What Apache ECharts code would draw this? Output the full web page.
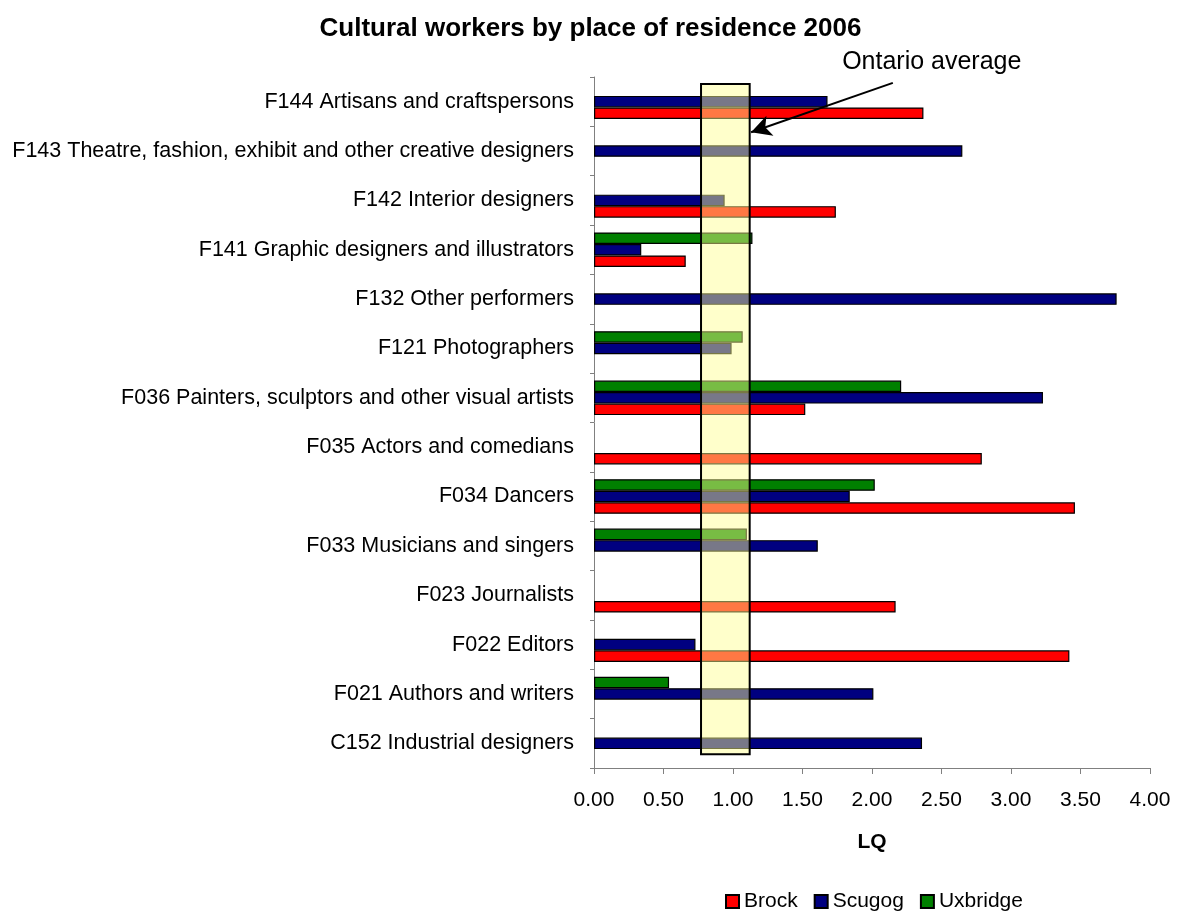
<!DOCTYPE html>
<html>
<head>
<meta charset="utf-8">
<title>Cultural workers by place of residence 2006</title>
<script src="https://cdn.jsdelivr.net/npm/echarts@6/dist/echarts.min.js"></script>
<style>
  html, body { margin: 0; padding: 0; background: #fff; }
  #chart { width: 1181px; height: 913px; }
</style>
</head>
<body>
<div id="chart"></div>
<script>
// categories listed bottom -> top, the way the category axis draws them
const occupations = [
  'C152 Industrial designers',
  'F021 Authors and writers',
  'F022 Editors',
  'F023 Journalists',
  'F033 Musicians and singers',
  'F034 Dancers',
  'F035 Actors and comedians',
  'F036 Painters, sculptors and other visual artists',
  'F121 Photographers',
  'F132 Other performers',
  'F141 Graphic designers and illustrators',
  'F142 Interior designers',
  'F143 Theatre, fashion, exhibit and other creative designers',
  'F144 Artisans and craftspersons'
]
const brock    = [null, null, 3.42, 2.17, null, 3.46, 2.79, 1.52, null, null, 0.66, 1.74, null, 2.37]
const scugog   = [2.36, 2.01, 0.73, null, 1.61, 1.84, null, 3.23, 0.99, 3.76, 0.34, 0.94, 2.65, 1.68]
const uxbridge = [null, 0.54, null, null, 1.10, 2.02, null, 2.21, 1.07, null, 1.14, null, null, null]

// LQ axis ticks
const lqTicks = [0, 0.5, 1, 1.5, 2, 2.5, 3, 3.5, 4]

// Ontario average band (LQ) and its extent in category units (0 = bottom, 14 = top)
const ontarioBand = [0.77, 1.12]
const bandRows = [0.28, 13.86]
// arrow from label to band, [LQ, row]
const arrowFrom = [2.15, 13.88]
const arrowTo = [1.13, 12.88]
const labelAt = [2.43, 14.3]

const FONT = "'Liberation Sans', Arial, sans-serif"
const chart = echarts.init(document.getElementById('chart'))

const barStyle = (color) => ({ color: color, borderColor: '#000', borderWidth: 1.2 })

// in a horizontal group the first series sits on top, so Uxbridge goes first
chart.setOption({
  backgroundColor: '#fff',
  animation: false,
  textStyle: { fontFamily: FONT },
  title: {
    text: 'Cultural workers by place of residence 2006',
    left: 'center',
    top: 11,
    textStyle: { fontSize: 26, fontWeight: 'bold', color: '#000', fontFamily: FONT }
  },
  legend: {
    data: ['Brock', 'Scugog', 'Uxbridge'],
    left: 720,
    top: 886,
    icon: 'rect',
    itemWidth: 13,
    itemHeight: 13,
    itemGap: 16,
    textStyle: { fontSize: 21, color: '#000', fontFamily: FONT }
  },
  grid: { left: 594, right: 31, top: 77, bottom: 145, outerBoundsMode: 'none' },
  xAxis: {
    type: 'value',
    min: lqTicks[0],
    max: lqTicks[lqTicks.length - 1],
    interval: lqTicks[1] - lqTicks[0],
    name: 'LQ',
    nameLocation: 'middle',
    nameGap: 64,
    nameTextStyle: { fontSize: 21, fontWeight: 'bold', color: '#000', fontFamily: FONT },
    axisLine: { show: true, lineStyle: { color: '#808080', width: 1 } },
    axisTick: { show: true, length: 6, lineStyle: { color: '#808080' } },
    axisLabel: {
      fontSize: 21, color: '#000', margin: 22, fontFamily: FONT,
      formatter: (v) => v.toFixed(2)
    },
    splitLine: { show: false }
  },
  yAxis: [
    {
      type: 'category',
      data: occupations,
      axisLine: { show: true, lineStyle: { color: '#808080', width: 1 } },
      axisTick: { show: true, length: 4, lineStyle: { color: '#808080' } },
      axisLabel: { fontSize: 21.5, color: '#000', margin: 20, fontFamily: FONT },
      splitLine: { show: false }
    },
    { type: 'value', min: 0, max: occupations.length, show: false }
  ],
  series: [
    {
      name: 'Uxbridge', type: 'bar', data: uxbridge,
      barGap: '0%', barCategoryGap: '30%',
      itemStyle: barStyle('#008000')
    },
    {
      name: 'Scugog', type: 'bar', data: scugog,
      barGap: '0%', barCategoryGap: '30%',
      itemStyle: barStyle('#000080')
    },
    {
      name: 'Brock', type: 'bar', data: brock,
      barGap: '0%', barCategoryGap: '30%',
      itemStyle: barStyle('#ff0000')
    },
    {
      // Ontario average band and callout arrow, drawn over the bars
      name: 'Ontario average', type: 'line', yAxisIndex: 1, data: [],
      silent: true,
      markArea: {
        z: 5,
        silent: true,
        itemStyle: { color: 'rgba(255,255,145,0.47)', borderColor: '#000', borderWidth: 2 },
        data: [[
          { xAxis: ontarioBand[0], yAxis: bandRows[0] },
          { xAxis: ontarioBand[1], yAxis: bandRows[1] }
        ]]
      },
      markLine: {
        z: 6,
        silent: true,
        symbol: ['none', 'arrow'],
        symbolSize: [16, 20],
        label: { show: false },
        lineStyle: { color: '#000', width: 2, type: 'solid' },
        data: [[{ coord: arrowFrom }, { coord: arrowTo }]]
      }
    }
  ]
})

// callout text sits above the plot, so place it through the same scales
const labelPx = chart.convertToPixel({ seriesIndex: 3 }, labelAt)
chart.setOption({
  graphic: [{
    type: 'text',
    x: labelPx[0],
    y: labelPx[1],
    z: 10,
    style: {
      text: 'Ontario average',
      fill: '#000',
      fontSize: 25,
      fontFamily: FONT,
      align: 'center',
      verticalAlign: 'middle'
    }
  }]
})
</script>
</body>
</html>
